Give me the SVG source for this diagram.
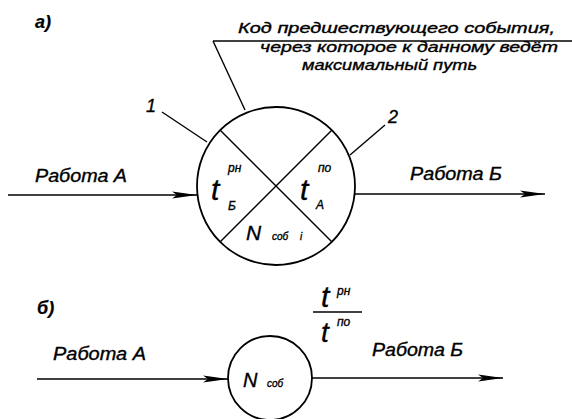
<svg xmlns="http://www.w3.org/2000/svg" width="572" height="419" viewBox="0 0 572 419">
<defs>
<marker id="arr" markerUnits="userSpaceOnUse" markerWidth="26" markerHeight="9" refX="25" refY="4.5" orient="auto">
<path d="M0,1 L25,4.5 L0,8 L5,4.5 z" fill="#000"/>
</marker>
</defs>
<style>
.t{font-family:"Liberation Sans",Arial,sans-serif;font-style:italic;fill:#000;stroke:#000;stroke-width:0.35}
.b{font-weight:bold;stroke-width:0.2}
.ln{stroke:#000;stroke-width:1.4;fill:none}
.node{stroke:#000;stroke-width:1.8;fill:#fff}
</style>
<rect width="572" height="419" fill="#fff"/>
<text class="t b" x="35" y="28" font-size="18">а)</text>
<text class="t b" x="37" y="314" font-size="18">б)</text>
<g id="annotation">
<text class="t" x="238" y="33" font-size="14" textLength="317" lengthAdjust="spacingAndGlyphs">Код предшествующего события,</text>
<text class="t" x="260" y="52" font-size="14" textLength="298" lengthAdjust="spacingAndGlyphs">через которое к данному ведёт</text>
<text class="t" x="302" y="70" font-size="14" textLength="175" lengthAdjust="spacingAndGlyphs">максимальный путь</text>
</g>
<g id="connectors">
<line class="ln" x1="213" y1="41" x2="572" y2="41"/>
<line class="ln" x1="213" y1="41" x2="245" y2="110"/>
<line class="ln" x1="162" y1="112" x2="207" y2="142"/>
<line class="ln" x1="350" y1="155" x2="385" y2="125"/>
<line class="ln" x1="8" y1="195" x2="197" y2="195" marker-end="url(#arr)"/>
<line class="ln" x1="355" y1="194" x2="545" y2="194" marker-end="url(#arr)"/>
<line class="ln" x1="37" y1="379" x2="228" y2="379" marker-end="url(#arr)"/>
<line class="ln" x1="312" y1="378" x2="503" y2="378" marker-end="url(#arr)"/>
</g>
<g id="labels">
<text class="t" x="146" y="112" font-size="18">1</text>
<text class="t" x="388" y="123" font-size="18">2</text>
<text class="t" x="35" y="182" font-size="18" textLength="92" lengthAdjust="spacingAndGlyphs">Работа А</text>
<text class="t" x="410" y="180" font-size="18" textLength="92" lengthAdjust="spacingAndGlyphs">Работа Б</text>
<text class="t" x="53" y="360" font-size="18" textLength="93" lengthAdjust="spacingAndGlyphs">Работа А</text>
<text class="t" x="372" y="356" font-size="18" textLength="91" lengthAdjust="spacingAndGlyphs">Работа Б</text>
</g>
<g id="event-a">
<circle class="node" cx="276" cy="186" r="79"/>
<line class="ln" x1="220" y1="130" x2="332" y2="242" stroke-width="1.8"/>
<line class="ln" x1="332" y1="130" x2="220" y2="242" stroke-width="1.8"/>
<text class="t" x="211" y="200" font-size="30">t</text>
<text class="t" x="228" y="172" font-size="12">рн</text>
<text class="t" x="228" y="210" font-size="12">Б</text>
<text class="t" x="300" y="200" font-size="30">t</text>
<text class="t" x="318" y="172" font-size="12">по</text>
<text class="t" x="316" y="209" font-size="12">А</text>
<text class="t" x="246" y="240" font-size="21">N</text>
<text class="t" x="272" y="240" font-size="10">соб</text>
<text class="t" x="300" y="240" font-size="10">i</text>
</g>
<g id="event-b">
<circle class="node" cx="270" cy="378" r="42"/>
<text class="t" x="243" y="387" font-size="20">N</text>
<text class="t" x="267" y="387" font-size="10">соб</text>
</g>
<g id="fraction">
<text class="t" x="321" y="307" font-size="30">t</text>
<text class="t" x="337" y="295" font-size="12">рн</text>
<line class="ln" x1="313" y1="312" x2="362" y2="312"/>
<text class="t" x="321" y="342" font-size="28">t</text>
<text class="t" x="337" y="326" font-size="12">по</text>
</g>
</svg>
